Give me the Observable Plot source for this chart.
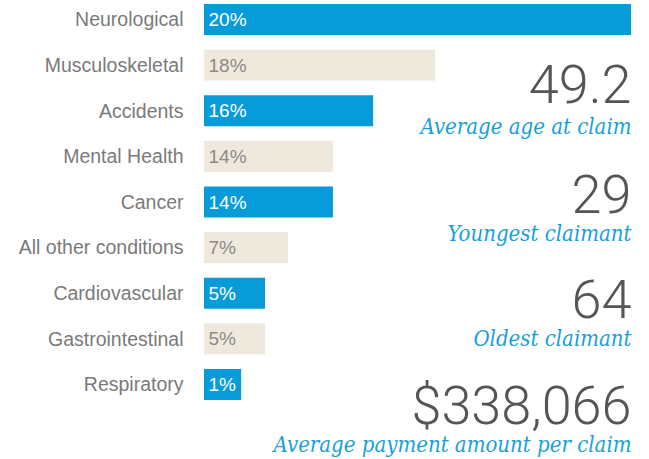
<!DOCTYPE html>
<html>
<head>
<meta charset="utf-8">
<script src="https://cdn.jsdelivr.net/npm/d3@7"></script>
<script src="https://cdn.jsdelivr.net/npm/@observablehq/plot@0.6"></script>
<style>
  html, body { margin: 0; padding: 0; background: #fff; }
  #chart svg { display: block; }
</style>
</head>
<body>
<div id="chart"></div>
<script>
// ---- data ----
const categories = ["Neurological", "Musculoskeletal", "Accidents", "Mental Health", "Cancer",
  "All other conditions", "Cardiovascular", "Gastrointestinal", "Respiratory"];
// share of claims (bar labels)
const shares = [20, 18, 16, 14, 14, 7, 5, 5, 1];
// drawn bar length, as % of the longest bar
const barLengths = [100, 54.1, 39.6, 30.2, 30.2, 19.7, 14.3, 14.3, 8.7];
// highlighted (blue) vs. muted (beige) bars
const highlighted = [true, false, true, false, true, false, true, false, true];

const statValues = ["49.2", "29", "64", "$338,066"];
const statLabels = ["Average age at claim", "Youngest claimant", "Oldest claimant", "Average payment amount per claim"];

// ---- layout (not data) ----
const statRows = ["Accidents", "Cancer", "Gastrointestinal", "Respiratory"];
const statValueDy = [-8.5, 10, -21.5, 39.5];
const statLabelDy = [22.5, 38.5, 7, 67];

const rows = categories.map((c, i) => ({
  category: c, share: shares[i], length: barLengths[i], hi: highlighted[i]
}));
const stats = statValues.map((v, i) => ({
  value: v, label: statLabels[i], row: statRows[i], vdy: statValueDy[i], ldy: statLabelDy[i]
}));

const BLUE = "#079bd9";
const BEIGE = "#efe9dd";

const statMarks = stats.flatMap(s => [
  Plot.text([s], {
    y: "row", text: "value", frameAnchor: "right", textAnchor: "end", lineAnchor: "bottom",
    dy: s.vdy, fill: "#555", fontSize: 54, fontWeight: 300,
    fontFamily: "Roboto, Inter, sans-serif"
  }),
  Plot.text([s], {
    y: "row", text: "label", frameAnchor: "right", textAnchor: "end", lineAnchor: "bottom",
    dy: s.ldy, fill: "#199fda", fontSize: 22, fontStyle: "italic",
    fontFamily: "'DejaVu Serif Condensed', 'DejaVu Serif', serif"
  })
]);

const chart = Plot.plot({
  width: 649,
  height: 459,
  marginLeft: 204,
  marginRight: 18,
  marginTop: 4,
  marginBottom: 59,
  style: { fontFamily: "'Liberation Sans', Arial, Helvetica, sans-serif", background: "#fff" },
  x: { domain: [0, 100], axis: null },
  y: { domain: categories, paddingInner: 0.32, paddingOuter: 0, round: false, label: null },
  marks: [
    Plot.barX(rows, { x: "length", y: "category", fill: d => d.hi ? BLUE : BEIGE }),
    Plot.text(rows, {
      x: 0, y: "category", text: d => d.share + "%", textAnchor: "start", dx: 4,
      fill: d => d.hi ? "#fff" : "#8a8a8a", fontSize: 19
    }),
    Plot.axisY({ tickSize: 0, tickPadding: 21, fontSize: 19.5, color: "#7a7a7a", label: null }),
    ...statMarks
  ]
});
document.getElementById("chart").append(chart);
</script>
</body>
</html>
